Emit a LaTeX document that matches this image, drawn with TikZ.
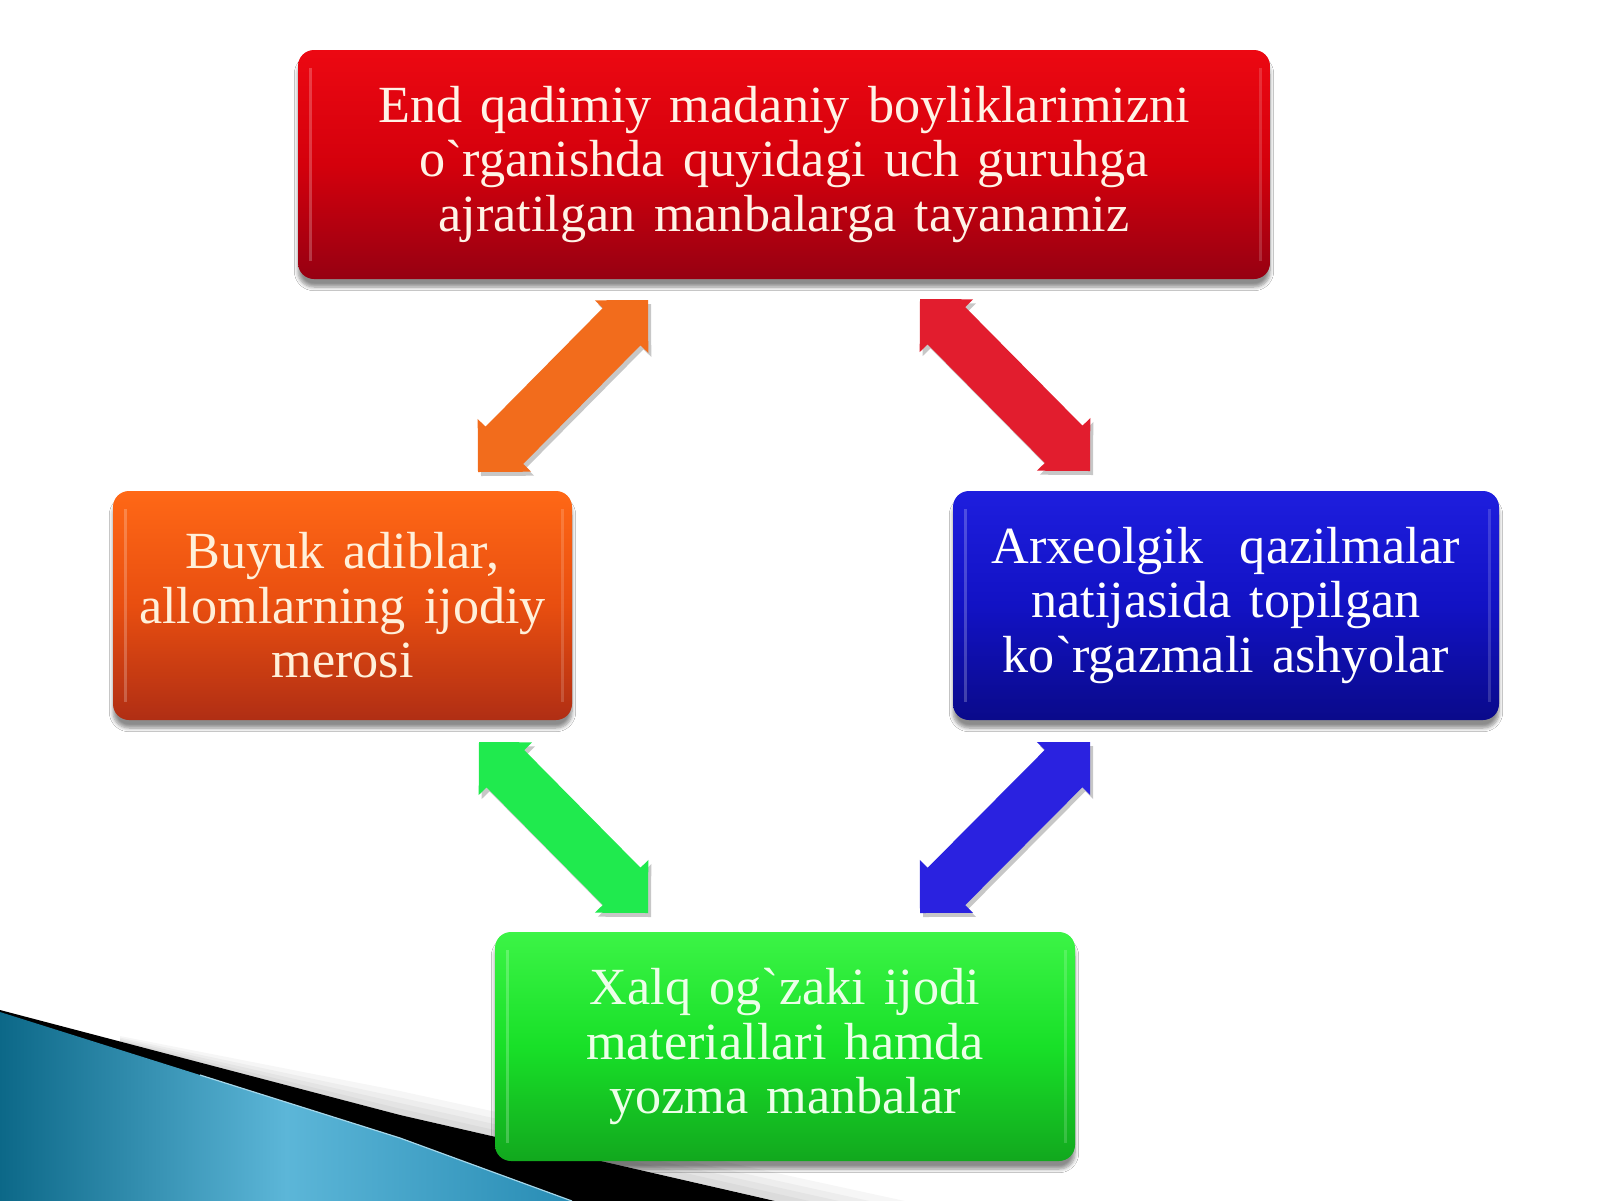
\documentclass[tikz,border=0pt]{standalone}
\usepackage{fontspec}
\setmainfont{Liberation Serif}[Ligatures=TeXOff,WordSpace=1.4]
\usetikzlibrary{calc,shadows.blur}
\definecolor{rtop}{RGB}{236,8,18}
\definecolor{rmid}{RGB}{212,0,12}
\definecolor{rbot}{RGB}{150,0,18}
\definecolor{otop}{RGB}{255,104,22}
\definecolor{omid}{RGB}{232,78,16}
\definecolor{obot}{RGB}{176,46,20}
\definecolor{btop}{RGB}{30,30,222}
\definecolor{bmid}{RGB}{18,18,196}
\definecolor{bbot}{RGB}{10,10,138}
\definecolor{gtop}{RGB}{60,244,70}
\definecolor{gmid}{RGB}{24,224,40}
\definecolor{gbot}{RGB}{18,168,30}
\definecolor{rtext}{RGB}{255,243,230}
\definecolor{otext}{RGB}{255,240,218}
\definecolor{gtext}{RGB}{236,255,232}
\definecolor{arrO}{RGB}{242,108,28}
\definecolor{arrR}{RGB}{226,29,46}
\definecolor{arrG}{RGB}{32,234,78}
\definecolor{arrB}{RGB}{42,34,224}
\definecolor{wdark}{RGB}{12,104,136}
\definecolor{wlight}{RGB}{92,182,216}
\definecolor{wright}{RGB}{40,140,180}
\newcommand\dblarr[3]{%
  \coordinate (ha) at ($(#1)!18.75pt!(#2)$);
  \coordinate (hb) at ($(#2)!18.75pt!(#1)$);
  \fill[black,opacity=0.22,transform canvas={shift={(1.5pt,-2pt)}}]
    (#1) -- ($(ha)!18.75pt!90:(#2)$) -- ($(ha)!13.25pt!90:(#2)$)
    -- ($(hb)!13.25pt!-90:(#1)$) -- ($(hb)!18.75pt!-90:(#1)$) -- (#2)
    -- ($(hb)!18.75pt!90:(#1)$) -- ($(hb)!13.25pt!90:(#1)$)
    -- ($(ha)!13.25pt!-90:(#2)$) -- ($(ha)!18.75pt!-90:(#2)$) -- cycle;
  \fill[#3]
    (#1) -- ($(ha)!18.75pt!90:(#2)$) -- ($(ha)!13.25pt!90:(#2)$)
    -- ($(hb)!13.25pt!-90:(#1)$) -- ($(hb)!18.75pt!-90:(#1)$) -- (#2)
    -- ($(hb)!18.75pt!90:(#1)$) -- ($(hb)!13.25pt!90:(#1)$)
    -- ($(ha)!13.25pt!-90:(#2)$) -- ($(ha)!18.75pt!-90:(#2)$) -- cycle;
}
\begin{document}
\begin{tikzpicture}[x=0.5pt,y=-0.5pt,
  box/.style={rounded corners=8pt, minimum height=114.5pt, inner sep=0pt,
    align=center, text=white,
    font=\fontsize{26.1}{27.3}\selectfont,
    blur shadow={shadow xshift=0pt, shadow yshift=-4pt, shadow blur steps=6, shadow opacity=45},
    path picture={
      \draw[white,opacity=0.22,line width=1.5pt]
        ([xshift=6pt,yshift=-9pt]path picture bounding box.north west) --
        ([xshift=6pt,yshift=9pt]path picture bounding box.south west);
      \draw[white,opacity=0.16,line width=1.5pt]
        ([xshift=-5pt,yshift=-9pt]path picture bounding box.north east) --
        ([xshift=-5pt,yshift=9pt]path picture bounding box.south east);
    }},
]
\useasboundingbox (0,0) rectangle (1600,1200);
\fill[white] (0,0) rectangle (1600,1200);

% bottom-left decoration
\foreach \t in {8,15,22,30}
  \fill[black,opacity=0.035] (120,1042) -- (400,1115) -- (960,1243)
     -- (960,1243-\t) -- (400,1115-0.8*\t) -- (120,1042-0.2*\t) -- cycle;
\fill[black] (0,1010) -- (400,1115) -- (775,1201) -- (0,1201) -- cycle;
\shade[left color=wdark, right color=wright, middle color=wlight]
  (0,1012) -- (400,1138) -- (572,1201) -- (0,1201) -- cycle;
\draw[wlight!55!white,line width=0.6pt] (200,1075) -- (400,1138) -- (572,1201);

% boxes
\node[box, minimum width=486pt, top color=rtop, bottom color=rbot, middle color=rmid, text=rtext]
  (top) at (784,164.5)
  {End qadimiy madaniy boyliklarimizni\\o`rganishda quyidagi uch guruhga\\ajratilgan manbalarga tayanamiz};
\node[box, minimum width=229.5pt, top color=otop, bottom color=obot, middle color=omid, text=otext]
  (left) at (342.5,605.5)
  {Buyuk adiblar,\\allomlarning ijodiy\\merosi};
\node[box, minimum width=273pt, top color=btop, bottom color=bbot, middle color=bmid]
  (right) at (1226,605.5)
  {Arxeolgik\space\space qazilmalar\\natijasida topilgan\\ko`rgazmali ashyolar};
\node[box, minimum width=290pt, top color=gtop, bottom color=gbot, middle color=gmid, text=gtext]
  (bottom) at (785,1046.5)
  {Xalq og`zaki ijodi\\materiallari hamda\\yozma manbalar};

% block arrows
\coordinate (oa) at (478,472);  \coordinate (ob) at (648,300);
\coordinate (ra) at (920,299);  \coordinate (rb) at (1090,471);
\coordinate (ga) at (479,742);  \coordinate (gb) at (648,913);
\coordinate (ba) at (920,913);  \coordinate (bb) at (1090,742);
\dblarr{oa}{ob}{arrO}
\dblarr{ra}{rb}{arrR}
\dblarr{ga}{gb}{arrG}
\dblarr{ba}{bb}{arrB}
\end{tikzpicture}
\end{document}
